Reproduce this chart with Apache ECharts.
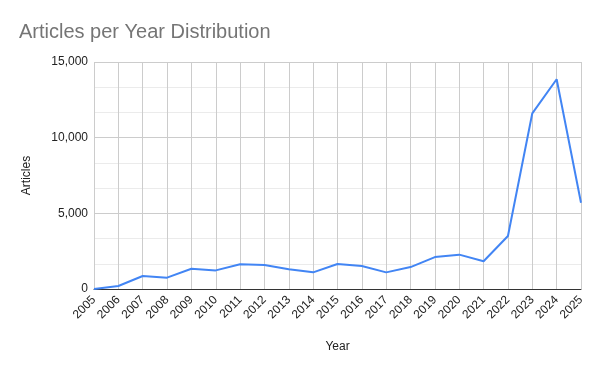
<!DOCTYPE html>
<html>
<head>
<meta charset="utf-8">
<script src="https://cdn.jsdelivr.net/npm/echarts@6/dist/echarts.min.js"></script>
<style>html,body{margin:0;padding:0;background:#fff}#c{width:600px;height:371px}</style>
</head>
<body>
<div id="c"></div>
<script>
var years = ['2005','2006','2007','2008','2009','2010','2011','2012','2013','2014','2015','2016','2017','2018','2019','2020','2021','2022','2023','2024','2025'];
var articles = [0,200,860,750,1340,1230,1630,1590,1300,1100,1650,1520,1100,1450,2110,2270,1830,3500,11610,13860,5700];
var yTicks = [0,5000,10000,15000];

var chart = echarts.init(document.getElementById('c'), null, {renderer:'canvas'});
chart.setOption({
  animation:false,
  backgroundColor:'#fff',
  title:{text:'Articles per Year Distribution', left:14, top:17,
    textStyle:{fontFamily:'Arial, Liberation Sans', fontSize:20, fontWeight:'normal', color:'#757575'}},
  grid:{left:94, right:19, top:62, bottom:82},
  xAxis:{type:'category', data:years, boundaryGap:false,
    name:'Year', nameLocation:'middle', nameGap:52,
    nameTextStyle:{fontFamily:'Arial, Liberation Sans', fontSize:12, color:'#222'},
    axisLine:{lineStyle:{color:'#333', width:1}},
    axisTick:{show:false},
    axisLabel:{rotate:45, fontFamily:'Arial, Liberation Sans', fontSize:12, color:'#222', margin:9, interval:0},
    splitLine:{show:true, interval:0, lineStyle:{color:'#ccc', width:1}}},
  yAxis:{type:'value', min:yTicks[0], max:yTicks[yTicks.length-1], interval:5000,
    name:'Articles', nameLocation:'middle', nameGap:61, nameRotate:90,
    nameTextStyle:{fontFamily:'Arial, Liberation Sans', fontSize:12, color:'#222'},
    axisLine:{show:false}, axisTick:{show:false},
    axisLabel:{fontFamily:'Arial, Liberation Sans', fontSize:12, color:'#222', margin:6,
      formatter:function(v){return v.toLocaleString('en-US');}},
    splitLine:{lineStyle:{color:'#ccc', width:1}},
    minorTick:{show:false, splitNumber:3},
    minorSplitLine:{show:true, lineStyle:{color:'#ebebeb', width:1}}},
  series:[{type:'line', data:articles, showSymbol:false, symbol:'none',
    lineStyle:{color:'#4285F4', width:2}, itemStyle:{color:'#4285F4'}}]
});
</script>
</body>
</html>
